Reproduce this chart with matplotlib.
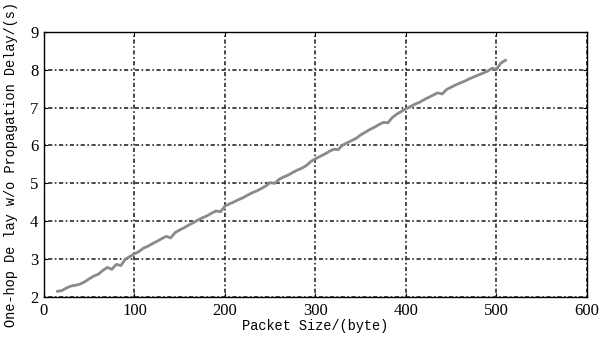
import numpy as np
import matplotlib.pyplot as plt

# Tamaño de paquete (byte) y retardo de un salto sin propagación (s)
paquete = np.arange(15, 511, 5)
retardo = [2.15, 2.17, 2.24, 2.29, 2.31, 2.34, 2.40, 2.48, 2.55, 2.60,
           2.70, 2.78, 2.73, 2.86, 2.83, 3.00, 3.07, 3.14, 3.20, 3.29,
           3.34, 3.41, 3.47, 3.54, 3.60, 3.56, 3.70, 3.77, 3.83, 3.90,
           3.96, 4.03, 4.09, 4.14, 4.21, 4.27, 4.25, 4.40, 4.46, 4.51,
           4.57, 4.62, 4.69, 4.75, 4.80, 4.86, 4.93, 5.02, 5.00, 5.11,
           5.17, 5.22, 5.29, 5.35, 5.40, 5.47, 5.58, 5.65, 5.71, 5.77,
           5.84, 5.90, 5.89, 6.01, 6.07, 6.13, 6.19, 6.28, 6.35, 6.42,
           6.48, 6.55, 6.61, 6.60, 6.74, 6.83, 6.90, 6.97, 7.03, 7.09,
           7.14, 7.21, 7.27, 7.33, 7.39, 7.36, 7.48, 7.54, 7.60, 7.65,
           7.70, 7.76, 7.81, 7.86, 7.91, 7.96, 8.04, 8.01, 8.18, 8.25]

xticks = [0, 100, 200, 300, 400, 500, 600]
yticks = [2, 3, 4, 5, 6, 7, 8, 9]

fig = plt.figure(figsize=(6, 3.39), dpi=100)
ax = fig.add_axes([0.0733, 0.124, 0.905, 0.782])
ax.plot(paquete, retardo, '-', color='#8a8a8a', linewidth=2.0)

ax.set_xlim(0, 600)
ax.set_ylim(2, 9)
ax.set_xticks(xticks)
ax.set_yticks(yticks)
ax.grid(True, color='#2a2a2a', linestyle=(0, (1, 1.5, 2.5, 1.5)), linewidth=1.2)
ax.tick_params(direction='in', length=3, top=True, right=True, pad=4,
               labelsize=12)
for lab in ax.get_xticklabels() + ax.get_yticklabels():
    lab.set_family('Liberation Serif')
for s in ax.spines.values():
    s.set_linewidth(1.0)

ax.set_xlabel('Packet Size/(byte)', family='Liberation Mono', fontsize=9.8,
              labelpad=0)
ax.set_ylabel('One-hop De lay w/o Propagation Delay/(s)', family='Liberation Mono',
              fontsize=9.8, labelpad=9)

fig.savefig('out.png', dpi=100)
